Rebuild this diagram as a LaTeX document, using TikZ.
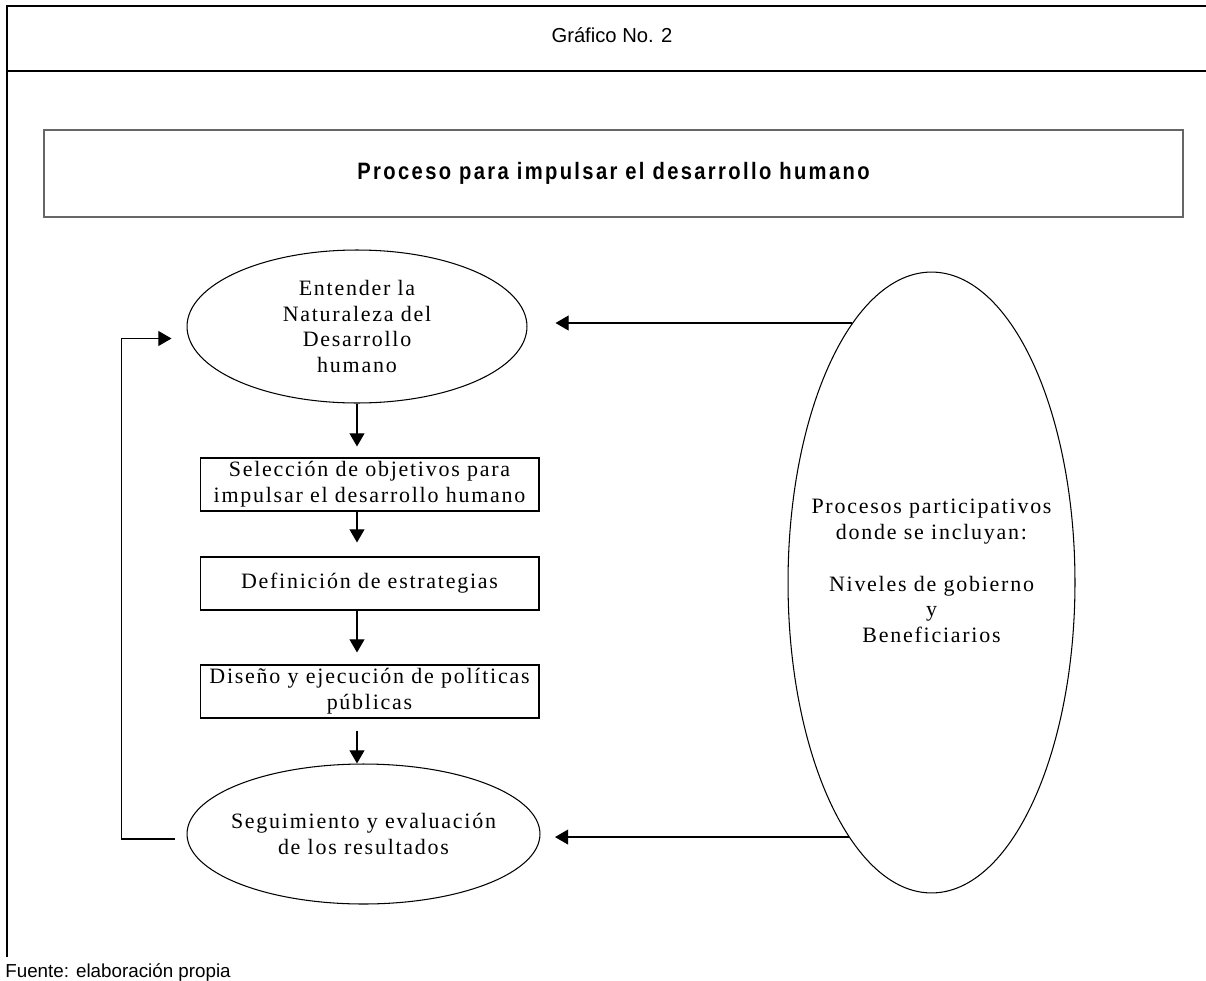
\documentclass[tikz,border=0pt]{standalone}
\usepackage{fontspec}
\setmainfont{Liberation Serif}
\newfontfamily\romana[LetterSpace=8]{Liberation Serif}
\newfontfamily\arial{Liberation Sans}
\newfontfamily\titular[FakeStretch=0.85,LetterSpace=10]{Liberation Sans}
\usepackage{tikz}
\usetikzlibrary{positioning,shapes.geometric,arrows.meta}
\tikzset{
    caja/.style={rectangle, draw=black, line width=0.6pt, minimum width=6.78cm, minimum height=1.06cm, inner sep=2pt, align=center, font=\romana\fontsize{12.5}{14.7}\selectfont},
    elipse/.style={ellipse, draw=black, line width=0.6pt, inner sep=0pt},
    texto/.style={align=center, inner sep=0pt, font=\romana\fontsize{12.5}{14.7}\selectfont},
    cabecera/.style={rectangle, draw=black!60, line width=0.9pt, minimum width=22.78cm, minimum height=1.74cm, font=\titular\bfseries\fontsize{13.5}{15}\selectfont}
}
\begin{document}
\begin{tikzpicture}[
        x=0.02cm, y=-0.02cm,
        % Estilo de las flechas
        flecha/.style={
            draw,
            line width=0.7pt,
            -{Triangle[length=7.5pt,width=8.5pt]}
        },
        % Estilo del marco exterior
        marco/.style={
            draw,
            line width=1.3pt
        }
    ]
    \useasboundingbox (0,0) rectangle (1206,980);

    % --- Marco y encabezado ---
    \draw[marco] (7,957) -- (7,6) -- (1230,6);
    \draw[marco] (7,71) -- (1230,71);
    \node[anchor=base, font=\arial\fontsize{11.5}{13}\selectfont] (grafico) at (612,43) {Gráfico No. 2};

    % Título
    \node[cabecera] (titulo) at (613.5,173.5) {Proceso para impulsar el desarrollo humano};

    % --- Columna izquierda ---
    \node[elipse, minimum width=6.8cm, minimum height=3.06cm] (ent) at (357,326.5) {};
    \node[texto] at (ent) {Entender la\\Naturaleza del\\Desarrollo\\humano};
    \node[caja] (sel) at (369.5,484.5) {Selección de objetivos para\\impulsar el desarrollo humano};
    \node[caja] (def) at (369.5,583.5) {Definición de estrategias};
    \node[caja] (dis) at (369.5,691.5) {Diseño y ejecución de políticas\\públicas};
    \node[elipse, minimum width=7.06cm, minimum height=2.8cm] (seg) at (363.5,834) {};
    \node[texto] at (seg) {Seguimiento y evaluación\\de los resultados};

    % --- Elipse derecha ---
    \node[elipse, minimum width=5.74cm, minimum height=12.42cm] (part) at (931.5,582.5) {};
    \node[texto] at (931.5,571) {Procesos participativos\\donde se incluyan:\\[14.7pt]Niveles de gobierno\\y\\Beneficiarios};

    % Flechas verticales
    \draw[flecha, shorten >=0.22cm] (ent.south) -- (ent.south |- sel.north);
    \draw[flecha, shorten >=0.28cm] (ent.south |- sel.south) -- (ent.south |- def.north);
    \draw[flecha, shorten >=0.24cm] (ent.south |- def.south) -- (ent.south |- dis.north);
    \draw[flecha, shorten <=0.24cm] (ent.south |- dis.south) -- (ent.south |- seg.north);

    % Retorno
    \draw[flecha, shorten <=0.24cm, shorten >=0.3cm] ([yshift=-0.1cm]seg.west) -- ++(-65,0) |- ([yshift=-0.24cm]ent.west);

    % Desde la elipse derecha
    \draw[flecha, shorten >=0.56cm] (part.107.7) -- (ent.east |- part.107.7);
    \draw[flecha, shorten >=0.29cm] (part.252.3) -- (seg.east |- part.252.3);

    % Fuente
    \node[anchor=base west, inner sep=0pt, font=\arial\fontsize{10.7}{12}\selectfont] (fuente) at (5,977) {Fuente: elaboración propia};
\end{tikzpicture}
\end{document}
